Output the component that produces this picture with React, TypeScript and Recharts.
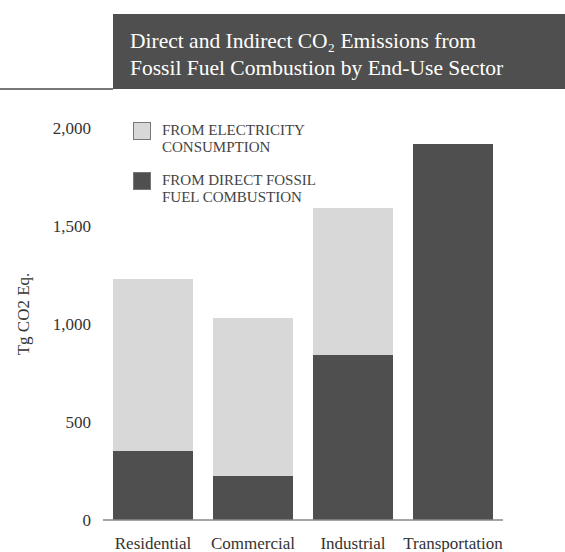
import React from "react";
import { BarChart, Bar, XAxis, YAxis, Legend } from "recharts";

const sectors = ["Residential", "Commercial", "Industrial", "Transportation"];
const directCombustion = [352, 224, 842, 1918];
const fromElectricity = [878, 807, 750, 0];
const yTicks = [0, 500, 1000, 1500, 2000];

const legendLines: Record<string, string[]> = {
  electricity: ["FROM ELECTRICITY", "CONSUMPTION"],
  direct: ["FROM DIRECT FOSSIL", "FUEL COMBUSTION"],
};

const DARK = "#4f4f4f";
const LIGHT = "#d8d8d8";
const FONT = "'Liberation Serif', 'DejaVu Serif', serif";

const data = sectors.map((name, i) => ({
  name,
  direct: directCombustion[i],
  electricity: fromElectricity[i],
}));

const renderLegend = (props: any) => {
  const items = [...(props.payload || [])].reverse();
  return (
    <div style={{ fontFamily: FONT, color: "#444", fontSize: 15 }}>
      {items.map((item: any) => (
        <div key={item.dataKey} style={{ display: "flex", marginBottom: 16 }}>
          <div
            style={{
              width: 16,
              height: 16,
              background: item.color,
              border: "1px solid #777",
              flexShrink: 0,
            }}
          />
          <div style={{ marginLeft: 11, lineHeight: "17px" }}>
            {legendLines[item.dataKey].map((l) => (
              <div key={l}>{l}</div>
            ))}
          </div>
        </div>
      ))}
    </div>
  );
};

const YLabel = () => (
  <text
    x={23}
    y={314}
    transform="rotate(-90, 23, 314)"
    textAnchor="middle"
    dominantBaseline="central"
    fontFamily={FONT}
    fontSize={17}
    fill="#333"
  >
    Tg CO2 Eq.
  </text>
);

export default function App() {
  return (
    <div style={{ position: "absolute", left: 0, top: 0, width: 565, height: 552, background: "#fff" }}>
      <div style={{ position: "absolute", left: 0, top: 88, width: 113, height: 2, background: "#777" }} />
      <div
        style={{
          position: "absolute",
          left: 113,
          top: 14,
          width: 452,
          height: 75,
          background: DARK,
          color: "#fff",
          fontFamily: FONT,
          fontSize: 21.5,
          lineHeight: "27px",
          boxSizing: "border-box",
          padding: "14px 0 0 17px",
        }}
      >
        <div>Direct and Indirect CO₂ Emissions from</div>
        <div>Fossil Fuel Combustion by End-Use Sector</div>
      </div>
      <div style={{ position: "absolute", left: 0, top: 0 }}>
        <BarChart
          width={565}
          height={552}
          data={data}
          margin={{ top: 128, right: 62, left: 0, bottom: 0 }}
          barCategoryGap={0}
        >
          <XAxis
            dataKey="name"
            height={32}
            tickLine={false}
            tickSize={0}
            tickMargin={17}
            axisLine={{ stroke: "#888", strokeWidth: 1.5 }}
            tick={{ fontFamily: FONT, fontSize: 17, fill: "#333" }}
            interval={0}
          />
          <YAxis
            width={103}
            domain={[0, 2000]}
            ticks={yTicks}
            axisLine={false}
            tickLine={false}
            tickSize={0}
            tickMargin={12}
            tickFormatter={(v: number) => v.toLocaleString("en-US")}
            tick={{ fontFamily: FONT, fontSize: 17, fill: "#333" }}
            label={<YLabel />}
          />
          <Legend
            layout="vertical"
            align="center"
            verticalAlign="middle"
            wrapperStyle={{ top: 122, left: 133, width: 260 }}
            content={renderLegend}
          />
          <Bar dataKey="direct" stackId="a" fill={DARK} barSize={80} isAnimationActive={false} />
          <Bar dataKey="electricity" stackId="a" fill={LIGHT} barSize={80} isAnimationActive={false} />
        </BarChart>
      </div>
    </div>
  );
}
